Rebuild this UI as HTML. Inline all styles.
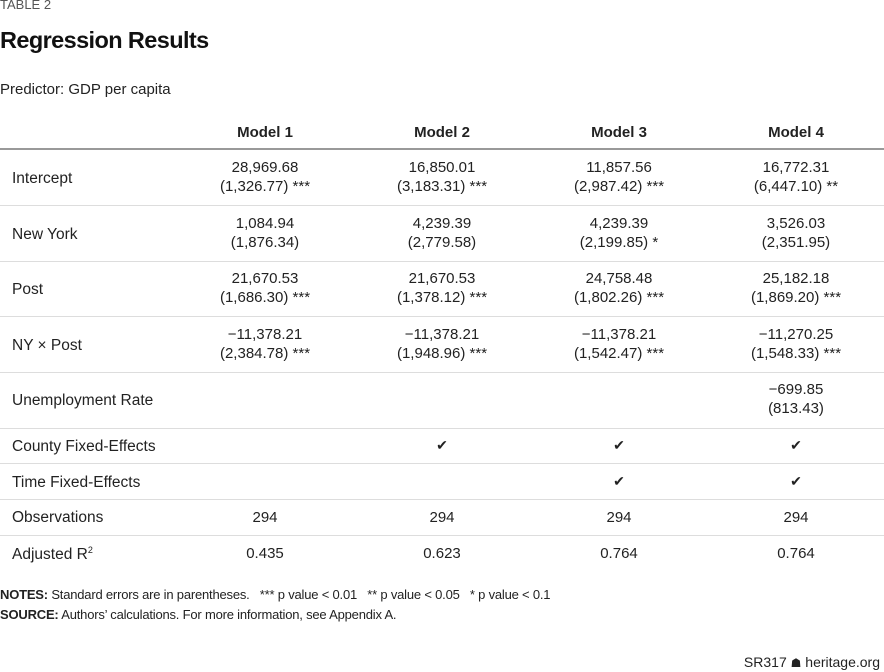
<!DOCTYPE html>
<html><head><meta charset="utf-8"><style>
body{margin:0;width:884px;height:672px;background:#fff;font-family:"Liberation Sans",sans-serif;color:#222;position:relative;overflow:hidden}
.a{position:absolute;white-space:nowrap}
.c{position:absolute;text-align:center;width:170px;font-size:15px;line-height:19px}
.l{position:absolute;left:12px;font-size:15.5px}
.h{position:absolute;border-top:1px solid #ddd;left:0;width:884px}
.ck{position:absolute;width:170px;text-align:center;font-size:14px}
</style></head><body>
<div class="a" style="left:0;top:-3px;font-size:13px;color:#555">TABLE 2</div>
<div class="a" style="left:0;top:27px;font-size:23.5px;font-weight:bold;letter-spacing:-0.6px;color:#111">Regression Results</div>
<div class="a" style="left:0;top:81px;font-size:15px">Predictor: GDP per capita</div>
<div class="c" style="left:180px;top:123px;font-weight:bold">Model 1</div>
<div class="c" style="left:357px;top:123px;font-weight:bold">Model 2</div>
<div class="c" style="left:534px;top:123px;font-weight:bold">Model 3</div>
<div class="c" style="left:711px;top:123px;font-weight:bold">Model 4</div>
<div class="h" style="top:148px;border-top:2px solid #999"></div>

<div class="l" style="top:170px">Intercept</div>
<div class="c" style="left:180px;top:158px">28,969.68<br>(1,326.77) ***</div>
<div class="c" style="left:357px;top:158px">16,850.01<br>(3,183.31) ***</div>
<div class="c" style="left:534px;top:158px">11,857.56<br>(2,987.42) ***</div>
<div class="c" style="left:711px;top:158px">16,772.31<br>(6,447.10) **</div>
<div class="h" style="top:205px"></div>

<div class="l" style="top:226px">New York</div>
<div class="c" style="left:180px;top:214px">1,084.94<br>(1,876.34)</div>
<div class="c" style="left:357px;top:214px">4,239.39<br>(2,779.58)</div>
<div class="c" style="left:534px;top:214px">4,239.39<br>(2,199.85) *</div>
<div class="c" style="left:711px;top:214px">3,526.03<br>(2,351.95)</div>
<div class="h" style="top:261px"></div>

<div class="l" style="top:281px">Post</div>
<div class="c" style="left:180px;top:269px">21,670.53<br>(1,686.30) ***</div>
<div class="c" style="left:357px;top:269px">21,670.53<br>(1,378.12) ***</div>
<div class="c" style="left:534px;top:269px">24,758.48<br>(1,802.26) ***</div>
<div class="c" style="left:711px;top:269px">25,182.18<br>(1,869.20) ***</div>
<div class="h" style="top:316px"></div>

<div class="l" style="top:337px">NY × Post</div>
<div class="c" style="left:180px;top:325px">−11,378.21<br>(2,384.78) ***</div>
<div class="c" style="left:357px;top:325px">−11,378.21<br>(1,948.96) ***</div>
<div class="c" style="left:534px;top:325px">−11,378.21<br>(1,542.47) ***</div>
<div class="c" style="left:711px;top:325px">−11,270.25<br>(1,548.33) ***</div>
<div class="h" style="top:372px"></div>

<div class="l" style="top:392px">Unemployment Rate</div>
<div class="c" style="left:711px;top:380px">−699.85<br>(813.43)</div>
<div class="h" style="top:428px"></div>

<div class="l" style="top:438px">County Fixed-Effects</div>
<div class="ck" style="left:357px;top:437px">✔</div>
<div class="ck" style="left:534px;top:437px">✔</div>
<div class="ck" style="left:711px;top:437px">✔</div>
<div class="h" style="top:463px"></div>

<div class="l" style="top:474px">Time Fixed-Effects</div>
<div class="ck" style="left:534px;top:473px">✔</div>
<div class="ck" style="left:711px;top:473px">✔</div>
<div class="h" style="top:499px"></div>

<div class="l" style="top:509px">Observations</div>
<div class="c" style="left:180px;top:508px">294</div>
<div class="c" style="left:357px;top:508px">294</div>
<div class="c" style="left:534px;top:508px">294</div>
<div class="c" style="left:711px;top:508px">294</div>
<div class="h" style="top:535px"></div>

<div class="l" style="top:545px">Adjusted R<sup style="font-size:9px">2</sup></div>
<div class="c" style="left:180px;top:544px">0.435</div>
<div class="c" style="left:357px;top:544px">0.623</div>
<div class="c" style="left:534px;top:544px">0.764</div>
<div class="c" style="left:711px;top:544px">0.764</div>

<div class="a" style="left:0;top:587px;font-size:13px;letter-spacing:-0.2px"><b>NOTES:</b> Standard errors are in parentheses. &nbsp; *** p value &lt; 0.01 &nbsp; ** p value &lt; 0.05 &nbsp; * p value &lt; 0.1</div>
<div class="a" style="left:0;top:607px;font-size:13px;letter-spacing:-0.2px"><b>SOURCE:</b> Authors’ calculations. For more information, see Appendix A.</div>
<div class="a" style="right:4px;top:654px;font-size:14px">SR317 <span style="font-size:12px">☗</span> heritage.org</div>
</body></html>
